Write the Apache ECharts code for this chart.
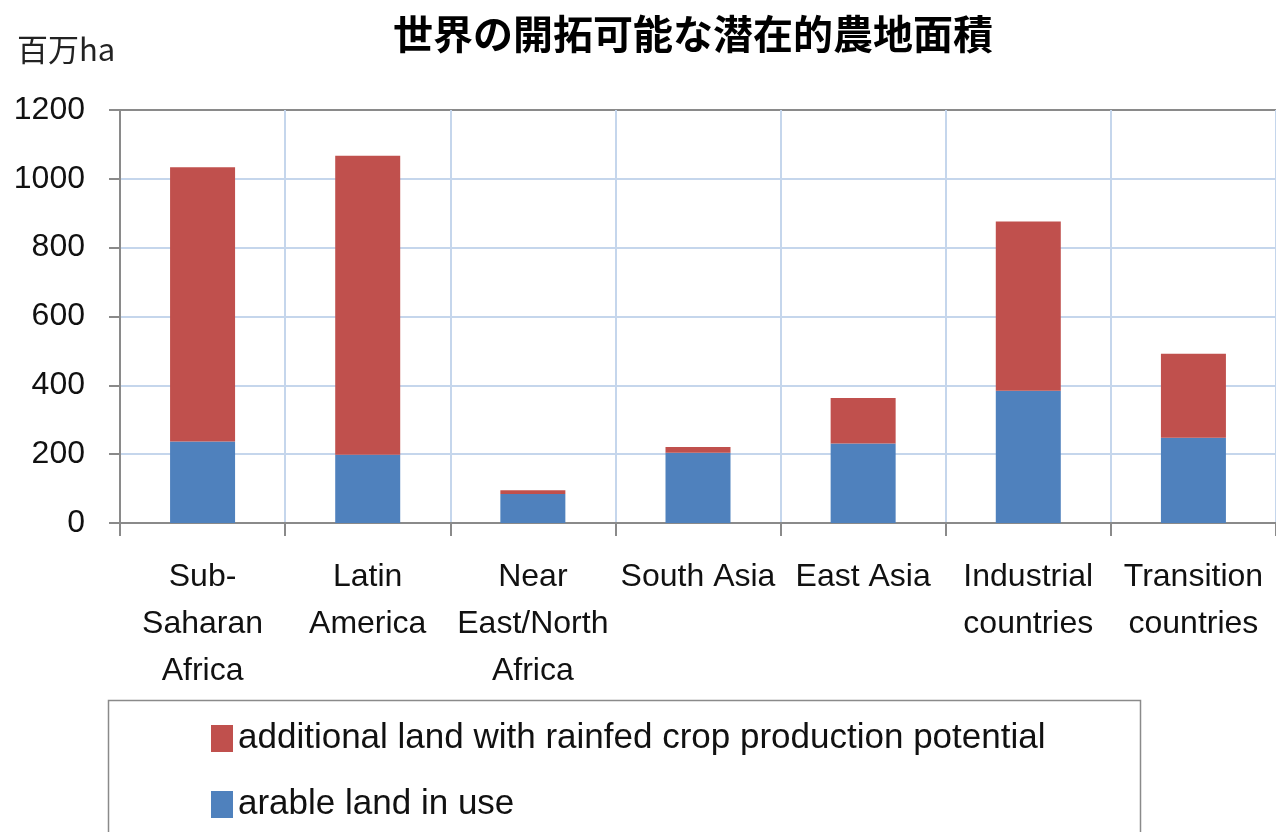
<!DOCTYPE html>
<html>
<head>
<meta charset="utf-8">
<script src="https://cdn.jsdelivr.net/npm/echarts@6/dist/echarts.min.js"></script>
<style>
  html, body { margin: 0; padding: 0; background: #fff; }
  #chart { width: 1276px; height: 832px; }
</style>
</head>
<body>
<div id="chart"></div>
<script>
// Regions (tick labels, with line breaks as printed under the axis)
const categories = [
  'Sub-\nSaharan\nAfrica',
  'Latin\nAmerica',
  'Near\nEast/North\nAfrica',
  'South Asia',
  'East Asia',
  'Industrial\ncountries',
  'Transition\ncountries'
];
// Million hectares
const arableInUse = [237, 198, 84, 204, 231, 384, 248];
const additionalRainfed = [797, 869, 11, 17, 132, 492, 244];

const yTicks = { min: 0, max: 1200, interval: 200 };

const seriesNames = {
  additional: 'additional land with rainfed crop production potential',
  arable: 'arable land in use'
};

const titleText = '世界の開拓可能な潜在的農地面積';
const unitText = '百万ha';

const latin = '"Liberation Sans", Arial, sans-serif';
const cjk = '"Noto Sans CJK JP", "Noto Sans CJK SC", sans-serif';
const gridBlue = '#c5d6ec';
const axisGray = '#8a8a8a';

// One legend box per entry so the two rows can be spaced freely
function legendRow(name, top) {
  return {
    orient: 'vertical',
    left: 206,
    top: top,
    itemWidth: 22,
    itemHeight: 27,
    icon: 'rect',
    data: [name],
    selectedMode: false,
    textStyle: { fontFamily: latin, fontSize: 35, color: '#111', lineHeight: 30 }
  };
}

const chart = echarts.init(document.getElementById('chart'), null, { renderer: 'canvas' });

chart.setOption({
  backgroundColor: '#ffffff',
  animation: false,
  title: {
    text: titleText,
    left: 388,
    top: 9,
    textStyle: { fontFamily: cjk, fontSize: 40, fontWeight: 'bold', color: '#000' }
  },
  graphic: [
    {
      type: 'text',
      left: 17,
      top: 34,
      style: { text: unitText, font: '31px ' + cjk, fill: '#222' }
    },
    {
      type: 'rect',
      shape: { x: 108.5, y: 700.5, width: 1032, height: 160 },
      style: { fill: 'none', stroke: '#8a8a8a', lineWidth: 1.5 },
      z: 0
    }
  ],
  legend: [
    legendRow(seriesNames.additional, 716),
    legendRow(seriesNames.arable, 782)
  ],
  grid: {
    left: 120,
    right: 0,
    top: 110,
    height: 413,
    containLabel: false
  },
  xAxis: {
    type: 'category',
    data: categories,
    axisLine: { show: true, lineStyle: { color: axisGray, width: 2 } },
    axisTick: { show: true, length: 13, lineStyle: { color: axisGray, width: 2 } },
    axisLabel: {
      interval: 0,
      margin: 31,
      fontFamily: latin,
      fontSize: 32,
      lineHeight: 47,
      color: '#111',
      align: 'center'
    },
    splitLine: { show: true, lineStyle: { color: gridBlue, width: 2 } }
  },
  yAxis: {
    type: 'value',
    min: yTicks.min,
    max: yTicks.max,
    interval: yTicks.interval,
    axisLine: { show: true, lineStyle: { color: axisGray, width: 2 } },
    axisTick: { show: true, length: 11, lineStyle: { color: axisGray, width: 2 } },
    axisLabel: {
      margin: 35,
      fontFamily: latin,
      fontSize: 32,
      color: '#111',
      formatter: (v) => String(v)
    },
    splitLine: {
      show: true,
      lineStyle: {
        color: [gridBlue, gridBlue, gridBlue, gridBlue, gridBlue, gridBlue, axisGray],
        width: 2
      }
    }
  },
  series: [
    {
      name: seriesNames.arable,
      type: 'bar',
      stack: 'land',
      barWidth: 65,
      data: arableInUse,
      itemStyle: { color: '#4f81bd' }
    },
    {
      name: seriesNames.additional,
      type: 'bar',
      stack: 'land',
      barWidth: 65,
      data: additionalRainfed,
      itemStyle: { color: '#c0504d' }
    }
  ]
});
</script>
</body>
</html>
